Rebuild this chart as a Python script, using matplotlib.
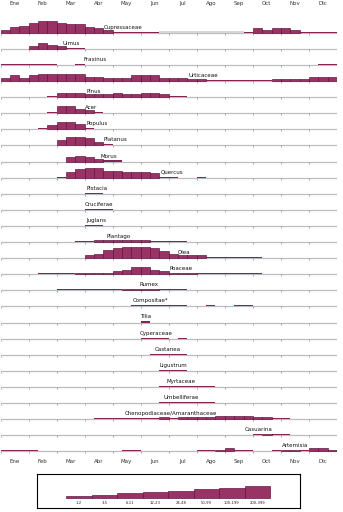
import matplotlib.pyplot as plt
import numpy as np

months = ["Ene", "Feb", "Mar", "Abr", "May", "Jun",
          "Jul", "Ago", "Sep", "Oct", "Nov", "Dic"]
classes = ["1-2", "3-5", "6-11", "12-23", "24-48", "50-99", "100-199", "200-399"]

# one value per 10-day period, 3 per month
# None = nothing, 0 = traces, 1-8 = concentration class, -1 = no data (grey)
_ = None
cupressaceae = [2, 4, 5,  7, 8, 8,  7, 6, 6,  4, 3, 2,  0, 0, 0,  0, 0, -1,
                -1, -1, -1,  -1, -1, -1,  -1, -1, 0,  3, 2, 3,  3, 2, 0,  0, 0, 0]
ulmus = [_, _, _,  2, 4, 3,  2, 0, 0,  _, _, _,  _, _, _,  _, _, _,
         _, _, _,  _, _, _,  _, _, _,  _, _, _,  _, _, _,  _, _, _]
fraxinus = [0, 0, 0,  0, 0, 0,  _, _, 0,  _, _, _,  _, _, _,  _, _, _,
            _, _, _,  _, _, _,  _, _, _,  _, _, _,  _, _, _,  _, 0, 0]
urticaceae = [2, 4, 2,  4, 5, 5,  5, 5, 5,  3, 3, 2,  2, 2, 4,  4, 4, 2,
              2, 2, 1,  1, 0, 0,  0, 0, 0,  0, 0, 1,  1, 1, 1,  3, 3, 3]
pinus = [_, _, _,  _, _, 0,  3, 3, 3,  2, 2, 2,  3, 2, 2,  3, 3, 2,
         0, 0, _,  _, _, _,  _, _, _,  _, _, _,  _, _, _,  _, _, _]
acer = [_, _, _,  _, _, 0,  5, 5, 3,  2, 0, _,  _, _, _,  _, _, _,
        _, _, _,  _, _, _,  _, _, _,  _, _, _,  _, _, _,  _, _, _]
populus = [_, _, _,  _, 0, 3,  5, 5, 4,  0, _, _,  _, _, _,  _, _, _,
           _, _, _,  _, _, _,  _, _, _,  _, _, _,  _, _, _,  _, _, _]
platanus = [_, _, _,  _, _, _,  4, 6, 6,  5, 2, 0,  _, _, _,  _, _, _,
            _, _, _,  _, _, _,  _, _, _,  _, _, _,  _, _, _,  _, _, _]
morus = [_, _, _,  _, _, _,  _, 3, 4,  3, 2, 0,  0, _, _,  _, _, _,
         _, _, _,  _, _, _,  _, _, _,  _, _, _,  _, _, _,  _, _, _]
quercus = [_, _, _,  _, _, _,  0, 4, 6,  7, 7, 5,  5, 4, 4,  4, 3, 0,
           0, _, _,  0, _, _,  _, _, _,  _, _, _,  _, _, _,  _, _, _]
pistacia = [_, _, _,  _, _, _,  _, _, _,  0, 0, _,  _, _, _,  _, _, _,
            _, _, _,  _, _, _,  _, _, _,  _, _, _,  _, _, _,  _, _, _]
cruciferae = [_, _, _,  _, _, _,  _, _, _,  0, 0, 0,  _, _, _,  _, _, _,
              _, _, _,  _, _, _,  _, _, _,  _, _, _,  _, _, _,  _, _, _]
juglans = [_, _, _,  _, _, _,  _, _, _,  0, 0, _,  _, _, _,  _, _, _,
           _, _, _,  _, _, _,  _, _, _,  _, _, _,  _, _, _,  _, _, _]
plantago = [_, _, _,  _, _, _,  _, _, 0,  0, 1, 1,  1, 1, 1,  1, 0, 0,
            0, 0, _,  _, _, _,  _, _, _,  _, _, _,  _, _, _,  _, _, _]
olea = [_, _, _,  _, _, _,  _, _, _,  2, 3, 6,  7, 8, 8,  8, 7, 5,
        3, 2, 2,  2, 0, 0,  0, 0, 0,  0, _, _,  _, _, _,  _, _, _]
poaceae = [_, _, _,  _, 0, 0,  0, 0, 1,  1, 1, 1,  2, 3, 5,  5, 3, 2,
           1, 1, 1,  0, 0, 0,  0, 0, 0,  0, _, _,  _, _, _,  _, _, _]
rumex = [_, _, _,  _, _, _,  0, 0, 0,  0, 0, 0,  0, 1, 1,  1, 1, 0,
         0, 0, _,  _, _, _,  _, _, _,  _, _, _,  _, _, _,  _, _, _]
compositae = [_, _, _,  _, _, _,  _, _, _,  _, _, _,  _, _, 0,  0, 0, 0,
              0, 0, _,  _, 0, _,  _, 0, 0,  _, _, _,  _, _, _,  _, _, _]
tilia = [_, _, _,  _, _, _,  _, _, _,  _, _, _,  _, _, _,  0, _, _,
         _, _, _,  _, _, _,  _, _, _,  _, _, _,  _, _, _,  _, _, _]
cyperaceae = [_, _, _,  _, _, _,  _, _, _,  _, _, _,  _, _, _,  0, 0, 0,
              _, 0, _,  _, _, _,  _, _, _,  _, _, _,  _, _, _,  _, _, _]
castanea = [_, _, _,  _, _, _,  _, _, _,  _, _, _,  _, _, _,  _, 0, 0,
            0, 0, _,  _, _, _,  _, _, _,  _, _, _,  _, _, _,  _, _, _]
ligustrum = [_, _, _,  _, _, _,  _, _, _,  _, _, _,  _, _, _,  _, _, 0,
             0, 0, _,  _, _, _,  _, _, _,  _, _, _,  _, _, _,  _, _, _]
myrtaceae = [_, _, _,  _, _, _,  _, _, _,  _, _, _,  _, _, _,  _, _, 0,
             0, 0, 0,  0, 0, _,  _, _, _,  _, _, _,  _, _, _,  _, _, _]
umbelliferae = [_, _, _,  _, _, _,  _, _, _,  _, _, _,  _, _, _,  _, _, 0,
                0, 0, 0,  0, 0, _,  _, _, _,  _, _, _,  _, _, _,  _, _, _]
chenopodiaceae = [_, _, _,  _, _, _,  _, _, _,  _, 0, 0,  0, 0, 0,  0, 0, 1,
                  0, 1, 1,  1, 1, 2,  2, 2, 2,  1, 1, 0,  0, _, _,  _, _, _]
casuarina = [_, _, _,  _, _, _,  _, _, _,  _, _, _,  _, _, _,  _, _, _,
             _, _, _,  _, _, _,  _, _, _,  0, 1, 0,  0, _, _,  _, _, _]
artemisia = [0, 0, 0,  0, _, _,  _, _, _,  _, _, _,  _, 0, 0,  _, _, _,
             _, _, _,  0, 0, 1,  2, 0, 0,  _, _, 0,  1, 1, 0,  2, 2, 1]

rows = [("Cupressaceae", cupressaceae), ("Ulmus", ulmus), ("Fraxinus", fraxinus),
        ("Urticaceae", urticaceae), ("Pinus", pinus), ("Acer", acer),
        ("Populus", populus), ("Platanus", platanus), ("Morus", morus),
        ("Quercus", quercus), ("Pistacia", pistacia), ("Cruciferae", cruciferae),
        ("Juglans", juglans), ("Plantago", plantago), ("Olea", olea),
        ("Poaceae", poaceae), ("Rumex", rumex), ("Compositae*", compositae),
        ("Tilia", tilia), ("Cyperaceae", cyperaceae), ("Castanea", castanea),
        ("Ligustrum", ligustrum), ("Myrtaceae", myrtaceae),
        ("Umbelliferae", umbelliferae),
        ("Chenopodiaceae/Amaranthaceae", chenopodiaceae),
        ("Casuarina", casuarina), ("Artemisia", artemisia)]

# where each name is written (in 10-day periods)
label_x = [11.07, 6.58, 8.83, 20.06, 9.15, 9.04, 9.15, 11.07, 10.75, 17.17,
           9.15, 9.04, 9.15, 11.39, 18.99, 18.03, 14.82, 14.18, 14.92, 14.92,
           16.53, 16.96, 17.81, 17.39, 13.32, 26.16, 30.12]

# look
row_px = 16.1
class_px = [1.7, 3.0, 4.3, 5.7, 7.0, 8.3, 9.7, 11.6]
fill = "#993366"
edge = "#5e0d36"
fs = 4.0

fig = plt.figure(figsize=(3.43, 5.12), dpi=100)
ax = fig.add_axes([0.5 / 343, 55 / 512, 336.5 / 343, 449 / 512])
top = 24.7 / row_px
ax.set_ylim(top - 449 / row_px, top)
ax.set_xlim(0, 36)

for i, (name, vals) in enumerate(rows):
    base = -i
    ax.hlines(base, 0, 36, color="#bdbdbd", lw=0.9, zorder=1)
    ax.vlines(np.arange(0, 37, 3), base - 2 / row_px, base, color="#9a9a9a",
              lw=0.6, zorder=1)
    for j, v in enumerate(vals):
        if v is None:
            continue
        if v == -1:
            ax.bar(j, 1.6 / row_px, width=1, bottom=base, align="edge",
                   color="#d6d6d6", lw=0, zorder=2)
        elif v == 0:
            ax.bar(j, 1.1 / row_px, width=1, bottom=base, align="edge",
                   color="#8a2155", lw=0, zorder=2)
        else:
            ax.bar(j, class_px[v - 1] / row_px, width=1, bottom=base,
                   align="edge", facecolor=fill, edgecolor=edge, lw=0.45,
                   zorder=3)
    ax.text(label_x[i], base + 4.0 / row_px, name, fontsize=fs,
            va="baseline", ha="left", color="#111111", zorder=4)

ax.set_xticks(np.arange(12) * 3 + 1.5)
ax.set_xticklabels(months, fontsize=fs, color="#333333")
ax.tick_params(axis="x", length=0, pad=1.5, top=True, labeltop=True)
ax.set_yticks([])
for s in ax.spines.values():
    s.set_visible(False)

# legend box
lg = fig.add_axes([37 / 343, 4 / 512, 263 / 343, 34 / 512])
lg.set_xlim(0, 263)
lg.set_ylim(-10.3, 23.7)
xs = 29 + 25.5 * np.arange(len(classes))
lg.bar(xs, class_px, width=25.5, align="edge", facecolor=fill,
       edgecolor=edge, lw=0.45)
for x, c in zip(xs, classes):
    lg.text(x + 12.75, -5, c, fontsize=2.7, ha="center", va="center",
            color="#222222")
lg.set_xticks([])
lg.set_yticks([])
for s in lg.spines.values():
    s.set_linewidth(0.8)
    s.set_color("black")

fig.savefig("out.png", dpi=100)
